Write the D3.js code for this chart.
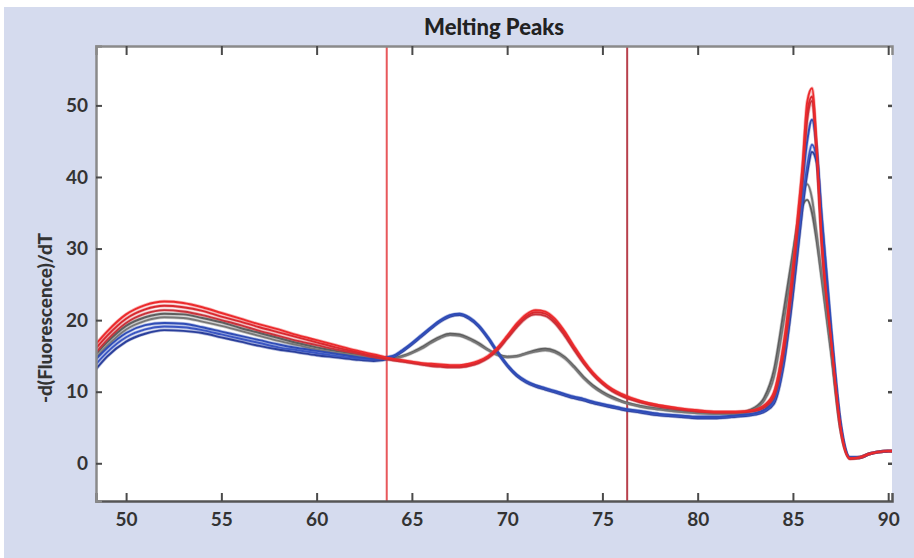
<!DOCTYPE html>
<html><head><meta charset="utf-8">
<script src="https://cdn.jsdelivr.net/npm/d3@7"></script>
<style>html,body{margin:0;padding:0;background:#fff;}svg{display:block;}</style>
</head><body>
<svg id="chart" width="914" height="558"></svg>
<script>
const title = "Melting Peaks";
const yLabel = "-d(Fluorescence)/dT";
const xTicks = [50, 55, 60, 65, 70, 75, 80, 85, 90];
const yTicks = [0, 10, 20, 30, 40, 50];
const markers = [63.68, 76.3];

const temps = [48.4, 49, 50, 51, 52, 53, 54, 55, 56, 57, 58, 59, 60, 61, 62, 63, 64, 64.5, 65, 65.5,
  66, 66.5, 67, 67.5, 68, 68.5, 69, 69.5, 70, 70.5, 71, 71.5, 72, 72.5, 73, 73.5, 74, 74.5, 75, 75.5,
  76, 77, 78, 79, 80, 81, 82, 83, 83.5, 84, 84.5, 85, 85.25, 85.5, 85.75, 86, 86.25, 86.5, 87, 87.5,
  88, 88.5, 89, 89.5, 90, 90.3];

const red1 = [16.6, 18.4, 20.8, 22.1, 22.6, 22.4, 21.8, 21.0, 20.2, 19.4,
  18.7, 17.9, 17.2, 16.5, 15.8, 15.2, 14.6, 14.4, 14.2, 14.0,
  13.9, 13.8, 13.7, 13.7, 13.9, 14.3, 15.0, 16.2, 17.8, 19.5,
  20.8, 21.4, 21.2, 20.2, 18.5, 16.4, 14.4, 12.7, 11.4, 10.4,
  9.7, 8.7, 8.1, 7.7, 7.4, 7.2, 7.2, 7.5, 8.1, 9.9,
  16.5, 27.5, 34.5, 41.5, 50.5, 52.4, 44.0, 32.0, 17.5, 5.0,
  0.7, 0.8, 1.3, 1.6, 1.7, 1.7];
const red2 = [16.0, 17.8, 20.2, 21.5, 22.0, 21.8, 21.3, 20.5, 19.8, 19.0,
  18.3, 17.6, 16.9, 16.2, 15.6, 15.0, 14.5, 14.3, 14.1, 13.9,
  13.7, 13.6, 13.5, 13.5, 13.7, 14.1, 14.8, 16.0, 17.6, 19.2,
  20.5, 21.1, 20.9, 19.9, 18.2, 16.1, 14.2, 12.5, 11.2, 10.2,
  9.5, 8.6, 8.0, 7.6, 7.3, 7.1, 7.1, 7.4, 8.0, 9.6,
  15.8, 26.5, 33.5, 40.5, 49.0, 51.2, 43.5, 31.5, 17.2, 5.0,
  0.7, 0.8, 1.3, 1.6, 1.7, 1.7];
const red3 = [15.4, 17.2, 19.6, 20.9, 21.4, 21.2, 20.7, 20.0, 19.3, 18.5,
  17.8, 17.1, 16.5, 15.9, 15.4, 14.8, 14.4, 14.2, 14.0, 13.8,
  13.6, 13.5, 13.4, 13.4, 13.6, 14.0, 14.7, 15.8, 17.4, 19.0,
  20.3, 20.8, 20.6, 19.6, 17.9, 15.9, 14.0, 12.4, 11.1, 10.1,
  9.4, 8.5, 7.9, 7.5, 7.2, 7.1, 7.1, 7.3, 7.8, 9.2,
  15.0, 25.5, 32.5, 39.5, 48.0, 50.6, 43.0, 31.0, 17.0, 4.8,
  0.6, 0.8, 1.3, 1.6, 1.7, 1.7];
const gray1 = [15.2, 16.9, 19.2, 20.4, 20.9, 20.8, 20.3, 19.7, 18.9, 18.2,
  17.5, 16.8, 16.2, 15.7, 15.3, 14.9, 14.7, 15.0, 15.5, 16.2,
  17.0, 17.7, 18.1, 18.0, 17.5, 16.8, 15.9, 15.2, 14.9, 15.0,
  15.4, 15.8, 16.0, 15.7, 14.9, 13.6, 12.1, 10.9, 10.0, 9.3,
  8.7, 8.0, 7.6, 7.3, 7.1, 7.0, 7.0, 7.8, 9.2, 13.0,
  21.0, 29.5, 33.5, 36.0, 36.8, 35.0, 31.0, 26.0, 15.5, 4.8,
  0.7, 0.8, 1.3, 1.6, 1.7, 1.7];
const gray2 = [14.7, 16.4, 18.7, 19.9, 20.4, 20.3, 19.8, 19.2, 18.5, 17.8,
  17.1, 16.5, 15.9, 15.4, 15.1, 14.8, 14.6, 14.9, 15.4, 16.0,
  16.8, 17.5, 17.9, 17.8, 17.3, 16.6, 15.8, 15.1, 14.8, 14.9,
  15.3, 15.6, 15.8, 15.5, 14.7, 13.4, 11.9, 10.7, 9.8, 9.1,
  8.6, 7.9, 7.5, 7.2, 7.0, 6.9, 6.9, 7.6, 8.8, 12.0,
  19.5, 28.5, 33.5, 37.5, 39.0, 37.0, 32.0, 26.5, 16.0, 4.8,
  0.7, 0.8, 1.3, 1.6, 1.7, 1.7];
const blue1 = [14.5, 16.1, 18.2, 19.3, 19.6, 19.5, 19.0, 18.4, 17.8, 17.2,
  16.6, 16.1, 15.7, 15.3, 14.9, 14.6, 15.0, 15.8, 16.8, 17.9,
  19.0, 20.0, 20.7, 20.9, 20.4, 19.3, 17.6, 15.6, 13.8, 12.4,
  11.5, 10.9, 10.5, 10.1, 9.7, 9.3, 9.0, 8.6, 8.3, 8.0,
  7.7, 7.3, 6.9, 6.7, 6.5, 6.5, 6.7, 7.0, 7.5, 9.0,
  15.0, 26.0, 32.5, 39.0, 45.0, 48.0, 44.0, 35.0, 19.0, 5.5,
  0.8, 0.8, 1.3, 1.6, 1.7, 1.7];
const blue2 = [13.8, 15.5, 17.6, 18.7, 19.1, 19.0, 18.6, 18.0, 17.4, 16.8,
  16.2, 15.8, 15.4, 15.0, 14.7, 14.5, 14.9, 15.7, 16.7, 17.8,
  18.9, 19.9, 20.6, 20.8, 20.3, 19.2, 17.5, 15.5, 13.7, 12.3,
  11.4, 10.8, 10.4, 10.0, 9.6, 9.2, 8.9, 8.5, 8.2, 7.9,
  7.6, 7.2, 6.8, 6.6, 6.4, 6.4, 6.6, 6.9, 7.3, 8.6,
  14.0, 24.5, 30.5, 36.5, 41.5, 44.5, 42.5, 34.0, 18.5, 5.5,
  0.8, 0.8, 1.3, 1.6, 1.7, 1.7];
const blue3 = [13.1, 14.9, 17.0, 18.1, 18.6, 18.5, 18.2, 17.6, 17.0, 16.4,
  15.9, 15.5, 15.1, 14.8, 14.5, 14.3, 14.8, 15.6, 16.6, 17.7,
  18.8, 19.8, 20.5, 20.7, 20.2, 19.1, 17.4, 15.4, 13.6, 12.2,
  11.3, 10.7, 10.3, 9.9, 9.5, 9.1, 8.8, 8.4, 8.1, 7.8,
  7.5, 7.1, 6.7, 6.5, 6.3, 6.3, 6.5, 6.8, 7.2, 8.3,
  13.5, 23.5, 29.5, 35.5, 40.5, 43.5, 42.0, 33.5, 18.5, 5.5,
  0.8, 0.8, 1.3, 1.6, 1.7, 1.7];

const seriesList = [
  {name: "gray1", values: gray1, color: "#5e5e5e"},
  {name: "gray2", values: gray2, color: "#777777"},
  {name: "blue3", values: blue3, color: "#2a3f9c"},
  {name: "blue2", values: blue2, color: "#3a56c2"},
  {name: "blue1", values: blue1, color: "#2f4cb6"},
  {name: "red3", values: red3, color: "#c8323a"},
  {name: "red2", values: red2, color: "#d9282e"},
  {name: "red1", values: red1, color: "#ec2a2c"}
];

const W = 914, H = 558;
const svg = d3.select("#chart");
const L = 96, R = 892, T = 46, B = 501;

svg.append("rect").attr("x", 0).attr("y", 0).attr("width", W).attr("height", H).attr("fill", "#ffffff");
svg.append("rect").attr("x", 4).attr("y", 7).attr("width", W - 4).attr("height", H - 7).attr("fill", "#d5dbee");
svg.append("rect").attr("x", L).attr("y", T).attr("width", R - L).attr("height", B - T).attr("fill", "#ffffff");

const x = d3.scaleLinear().domain([48.42, 90.2]).range([L, R]);
const y = d3.scaleLinear().domain([-5.27, 58.3]).range([B, T]);

const plot = svg.append("g");
svg.append("clipPath").attr("id", "clip").append("rect")
  .attr("x", L).attr("y", T).attr("width", R - L).attr("height", B - T);

const markerColors = ["#e8585c", "#b8404c"];
plot.selectAll("line.marker").data(markers).join("line")
  .attr("class", "marker")
  .attr("x1", d => x(d)).attr("x2", d => x(d))
  .attr("y1", T).attr("y2", B)
  .attr("stroke", (d, i) => markerColors[i]).attr("stroke-width", 2);

const line = d3.line()
  .x((d, i) => x(temps[i]))
  .y(d => y(d))
  .curve(d3.curveMonotoneX);

const lines = plot.append("g").attr("clip-path", "url(#clip)");
lines.selectAll("path.halo").data(seriesList).join("path")
  .attr("class", "halo")
  .attr("d", d => line(d.values))
  .attr("fill", "none").attr("stroke", d => d.color).attr("stroke-opacity", 0.35)
  .attr("stroke-width", 3.4).attr("stroke-linejoin", "round");
lines.selectAll("path.series").data(seriesList).join("path")
  .attr("class", "series")
  .attr("d", d => line(d.values))
  .attr("fill", "none").attr("stroke", d => d.color)
  .attr("stroke-width", 1.9).attr("stroke-linejoin", "round");

const fontFam = "Lato, 'Open Sans', sans-serif";

const axBottom = d3.axisBottom(x).tickValues(xTicks).tickSize(-8).tickPadding(12).tickFormat(d3.format("d"));
const gB = svg.append("g").attr("transform", `translate(0,${B})`).call(axBottom);
const axTop = d3.axisTop(x).tickValues(xTicks).tickSize(-9).tickFormat("");
const gT = svg.append("g").attr("transform", `translate(0,${T})`).call(axTop);
const axLeft = d3.axisLeft(y).tickValues(yTicks).tickSize(-6).tickPadding(8).tickFormat(d3.format("d"));
const gL = svg.append("g").attr("transform", `translate(${L},0)`).call(axLeft);
const axRight = d3.axisRight(y).tickValues(yTicks).tickSize(-4).tickFormat("");
const gR = svg.append("g").attr("transform", `translate(${R},0)`).call(axRight);

[gB, gT, gL, gR].forEach(g => {
  g.selectAll(".tick line").attr("stroke", "#4a4a4a").attr("stroke-width", 2);
  g.selectAll(".tick text").attr("fill", "#333333").attr("font-family", fontFam)
    .attr("font-weight", 700).attr("font-size", 19);
});
gB.select(".domain").attr("stroke", "#555555").attr("stroke-width", 2.5);
gT.select(".domain").attr("stroke", "#8a8a8a").attr("stroke-width", 2.5);
gL.select(".domain").attr("stroke", "#8a8a8a").attr("stroke-width", 2.5);
gR.select(".domain").attr("stroke", "none");
gR.selectAll(".tick line").attr("stroke-width", 2.5);

svg.append("text").attr("x", (L + R) / 2).attr("y", 35).attr("text-anchor", "middle")
  .attr("font-family", fontFam).attr("font-weight", 900).attr("font-size", 22)
  .attr("fill", "#222222").text(title);

svg.append("text").attr("transform", `translate(52,${318}) rotate(-90)`)
  .attr("text-anchor", "middle")
  .attr("font-family", fontFam).attr("font-weight", 900).attr("font-size", 19)
  .attr("fill", "#333333").text(yLabel);
</script>
</body></html>
